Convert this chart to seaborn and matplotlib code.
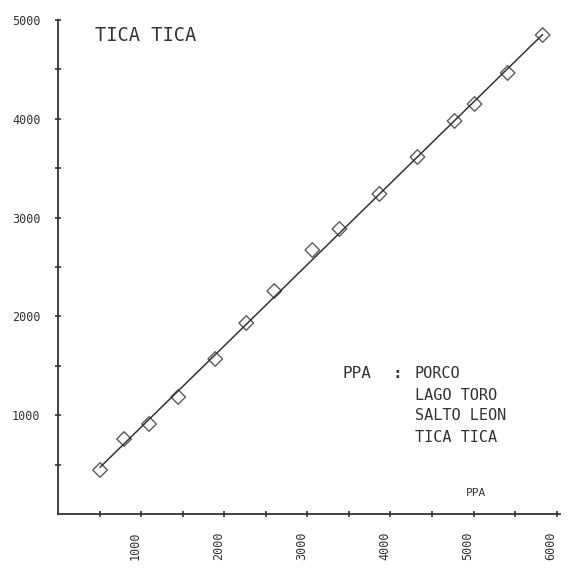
import numpy as np
import pandas as pd
import matplotlib
matplotlib.use("Agg")
import matplotlib.pyplot as plt
import matplotlib.transforms as mtransforms
import seaborn as sns

# data
ppa_x = [506, 795, 1096, 1446, 1892, 2265, 2602, 3060, 3386, 3867, 4325, 4771, 5012, 5410, 5831]
tica_y = [445, 759, 911, 1184, 1569, 1933, 2257, 2672, 2885, 3239, 3613, 3978, 4150, 4464, 4848]
x_ticks = [500 * i for i in range(1, 13)]
y_ticks = [500 * i for i in range(1, 11)]
x_labels = [str(v) if v % 1000 == 0 else "" for v in x_ticks]
y_labels = [str(v) if v % 1000 == 0 else "" for v in y_ticks]
legend_lines = ["LAGO TORO", "SALTO LEON", "TICA TICA"]

df = pd.DataFrame({"PPA": ppa_x, "TICA": tica_y})

sns.set_style("white")
plt.rcParams['font.family'] = ['DejaVu Sans Mono']

fig = plt.figure(figsize=(5.68, 5.71), dpi=100)
ax = fig.add_axes([58 / 568, 57 / 571, 502 / 568, 494 / 571])

ink = "#333333"
sns.regplot(data=df, x="PPA", y="TICA", ax=ax, ci=None,
            marker="D",
            scatter_kws={"s": 55, "facecolors": "none", "edgecolors": ink, "linewidths": 1.0},
            line_kws={"color": ink, "linewidth": 1.1})

ax.set_xlim(0, 6040)
ax.set_ylim(0, 5000)
ax.set_xticks(x_ticks)
ax.set_xticklabels(x_labels, rotation=90, fontsize=8.5)
ax.set_yticks(y_ticks)
ax.set_yticklabels(y_labels, fontsize=8.5)
ax.tick_params(axis="both", direction="inout", length=5, width=1.2, color=ink,
               labelcolor=ink, bottom=True, left=True)
ax.tick_params(axis="x", pad=10)
ax.tick_params(axis="y", pad=10)
shift = mtransforms.ScaledTranslation(-6 / 100, 0, fig.dpi_scale_trans)
for lab in ax.get_xticklabels():
    lab.set_transform(lab.get_transform() + shift)
ax.set_xlabel("")
ax.set_ylabel("")
sns.despine(ax=ax)
for s in ["left", "bottom"]:
    ax.spines[s].set_linewidth(1.3)
    ax.spines[s].set_color(ink)

ax.text(37 / 502, 1 - 6 / 494, "TICA TICA", transform=ax.transAxes, fontsize=13.5, color=ink, va="top")

# annotation block
row0 = (514 - 374) / 494
ax.text((343 - 58) / 502, row0, "PPA", transform=ax.transAxes, fontsize=11.5, color=ink, va="center")
ax.text((392 - 58) / 502, row0, ":", transform=ax.transAxes, fontsize=11.5, color=ink,
        va="center", fontweight="bold")
ax.text((415 - 58) / 502, row0, "PORCO", transform=ax.transAxes, fontsize=11, color=ink, va="center")
for i, name in enumerate(legend_lines):
    ax.text((415 - 58) / 502, (514 - 395 - 21 * i) / 494, name, transform=ax.transAxes,
            fontsize=11, color=ink, va="center")

ax.text((466 - 58) / 502, (514 - 493) / 494, "PPA", transform=ax.transAxes,
        fontsize=8, color=ink, va="center")

fig.savefig("out.png", dpi=100)
